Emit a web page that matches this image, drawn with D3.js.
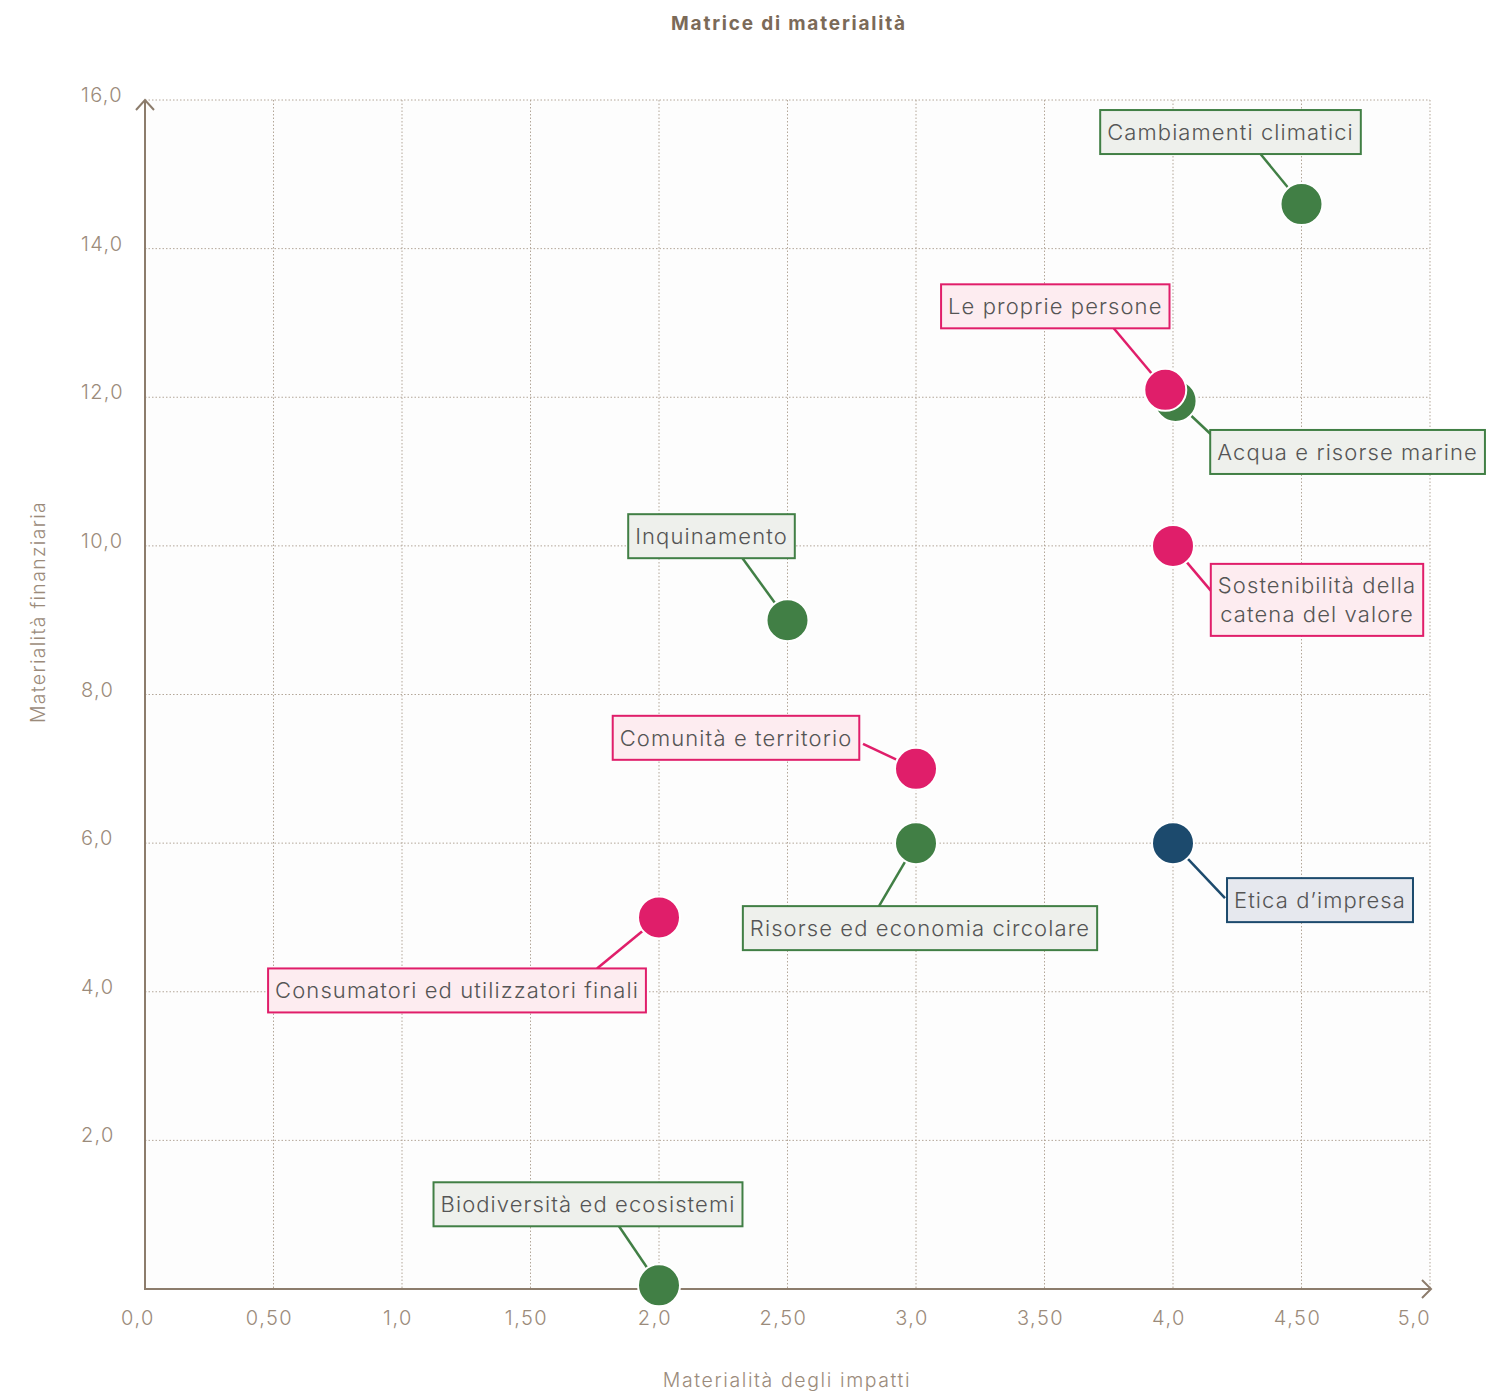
<!DOCTYPE html>
<html><head><meta charset="utf-8">
<script src="https://cdn.jsdelivr.net/npm/d3@7"></script>
<style>
body{margin:0;background:#fff;}
svg{display:block;}
text{font-family:Inter, "Noto Sans", sans-serif;}
</style></head>
<body><svg id="c" width="1487" height="1391"></svg>
<script>
// ---- data ----
const topics = ["Cambiamenti climatici","Acqua e risorse marine","Le proprie persone","Sostenibilità della\ncatena del valore","Inquinamento","Comunità e territorio","Risorse ed economia circolare","Etica d’impresa","Consumatori ed utilizzatori finali","Biodiversità ed ecosistemi"];
const impatti = [4.5, 4.01, 3.97, 4.0, 2.5, 3.0, 3.0, 4.0, 2.0, 2.0];
const finanziaria = [14.6, 11.95, 12.1, 10.0, 9.0, 7.0, 6.0, 6.0, 5.0, 0.05];
const gruppo = ["ambiente","ambiente","sociale","sociale","ambiente","sociale","ambiente","governance","sociale","ambiente"];
const xTicks = [0,0.5,1,1.5,2,2.5,3,3.5,4,4.5,5];
const xTickLabels = ["0,0","0,50","1,0","1,50","2,0","2,50","3,0","3,50","4,0","4,50","5,0"];
const yTicks = [2,4,6,8,10,12,14,16];
const yTickLabels = ["2,0","4,0","6,0","8,0","10,0","12,0","14,0","16,0"];

// ---- layout / style ----
const colors = {ambiente:"#417f45", sociale:"#e01e6a", governance:"#1c4a6d"};
const fills = {ambiente:"#eef0ec", sociale:"#fdecf0", governance:"#e6e8ee"};
// label box centre offset and connector end offset, in px from the dot
const labelLayout = [
  {bx:-71,by:-72,lx:-41,ly:-50},
  {bx:172,by:51,lx:35,ly:33},
  {bx:-110,by:-83.5,lx:-52,ly:-62},
  {bx:144,by:54,lx:38,ly:45},
  {bx:-76,by:-84,lx:-45,ly:-62},
  {bx:-180,by:-31,lx:-53,ly:-25},
  {bx:4,by:85,lx:-37,ly:63},
  {bx:147,by:57,lx:52,ly:55},
  {bx:-202,by:73,lx:-62,ly:51},
  {bx:-71,by:-81,lx:-40,ly:-59}
];

const svg = d3.select("#c");
const x = d3.scaleLinear().domain([0,5]).range([145,1430]);
const y = d3.scaleLinear().domain([0,16]).range([1289,100]);
const axisCol = "#8c7c6c", tickCol = "#9b8b7b", gridCol = "#b3a698";

svg.append("rect").attr("x",x(0)).attr("y",y(16)).attr("width",x(5)-x(0)).attr("height",y(0)-y(16)).attr("fill","#fdfdfd");

// title
svg.append("text").attr("x",789).attr("y",30).attr("text-anchor","middle")
  .attr("font-size",19).attr("font-weight",700).attr("fill","#7b6a58").attr("letter-spacing",1.8)
  .text("Matrice di materialità");

// grid
const g = svg.append("g");
g.selectAll("line.vx").data(xTicks.slice(1)).join("line")
  .attr("x1",d=>x(d)).attr("x2",d=>x(d)).attr("y1",y(16)).attr("y2",y(0))
  .attr("stroke",gridCol).attr("stroke-width",1).attr("stroke-dasharray","1.5,2");
g.selectAll("line.hy").data(yTicks).join("line")
  .attr("y1",d=>y(d)).attr("y2",d=>y(d)).attr("x1",x(0)).attr("x2",x(5))
  .attr("stroke",gridCol).attr("stroke-width",1).attr("stroke-dasharray","1.5,2");

// axes
svg.append("line").attr("x1",x(0)).attr("x2",x(5)+1).attr("y1",y(0)).attr("y2",y(0)).attr("stroke",axisCol).attr("stroke-width",2);
svg.append("line").attr("x1",x(0)).attr("x2",x(0)).attr("y1",y(0)+1).attr("y2",y(16)).attr("stroke",axisCol).attr("stroke-width",2);
svg.append("path").attr("d",`M${x(0)-9},${y(16)+10}L${x(0)},${y(16)}L${x(0)+9},${y(16)+10}`).attr("fill","none").attr("stroke",axisCol).attr("stroke-width",2);
svg.append("path").attr("d",`M${x(5)-8},${y(0)-9}L${x(5)+1},${y(0)}L${x(5)-8},${y(0)+9}`).attr("fill","none").attr("stroke",axisCol).attr("stroke-width",2);

// tick labels
svg.selectAll("text.xt").data(xTicks).join("text")
  .attr("x",(d,i)=>x(d)+(i===xTicks.length-1?1:(i===0?-7:-4)))
  .attr("y",1325).attr("text-anchor",(d,i)=>i===xTicks.length-1?"end":"middle")
  .attr("font-size",20).attr("font-weight",350).attr("letter-spacing",1.5).attr("fill",tickCol).text((d,i)=>xTickLabels[i]);
svg.selectAll("text.yt").data(yTicks).join("text")
  .attr("x",81).attr("y",d=>y(d)-4).attr("dy","0.3em").attr("text-anchor","start")
  .attr("font-size",20).attr("font-weight",350).attr("letter-spacing",1.3).attr("fill",tickCol).text((d,i)=>yTickLabels[i]);

// axis titles
svg.append("text").attr("x",787).attr("y",1387).attr("text-anchor","middle").attr("font-size",19.5).attr("font-weight",350).attr("fill",tickCol).attr("letter-spacing",1.6).text("Materialità degli impatti");
svg.append("text").attr("transform","translate(45,612) rotate(-90)").attr("text-anchor","middle").attr("font-size",19.5).attr("font-weight",350).attr("fill",tickCol).attr("letter-spacing",1.3).text("Materialità finanziaria");

const pts = topics.map((t,i)=>({t, cx:x(impatti[i]), cy:y(finanziaria[i]), grp:gruppo[i], L:labelLayout[i]}));

// connectors
svg.selectAll("line.conn").data(pts).join("line")
  .attr("x1",d=>d.cx).attr("y1",d=>d.cy).attr("x2",d=>d.cx+d.L.lx).attr("y2",d=>d.cy+d.L.ly)
  .attr("stroke",d=>colors[d.grp]).attr("stroke-width",2.5);

// label boxes
const lab = svg.selectAll("g.lab").data(pts).join("g");
lab.each(function(d){
  const gg = d3.select(this);
  const lines = d.t.split("\n");
  const lh = 29;
  const rect = gg.append("rect");
  const tx = gg.append("text").attr("font-size",22).attr("font-weight",350).attr("letter-spacing",1.1).attr("fill","#555");
  lines.forEach((s,k)=>{
    tx.append("tspan").attr("x",d.cx+d.L.bx).attr("y",d.cy+d.L.by+(k-(lines.length-1)/2)*lh).attr("dy","0.35em").attr("text-anchor","middle").text(s);
  });
  const bb = tx.node().getBBox();
  const w = bb.width+14, h = lines.length===1?44:72;
  rect.attr("x",d.cx+d.L.bx-w/2).attr("y",d.cy+d.L.by-h/2).attr("width",w).attr("height",h)
    .attr("fill",fills[d.grp]).attr("stroke",colors[d.grp]).attr("stroke-width",2);
});

// dots
svg.selectAll("circle.dot").data(pts).join("circle")
  .attr("cx",d=>d.cx).attr("cy",d=>d.cy).attr("r",21)
  .attr("fill",d=>colors[d.grp]).attr("stroke","#fff").attr("stroke-width",2);
</script></body></html>
